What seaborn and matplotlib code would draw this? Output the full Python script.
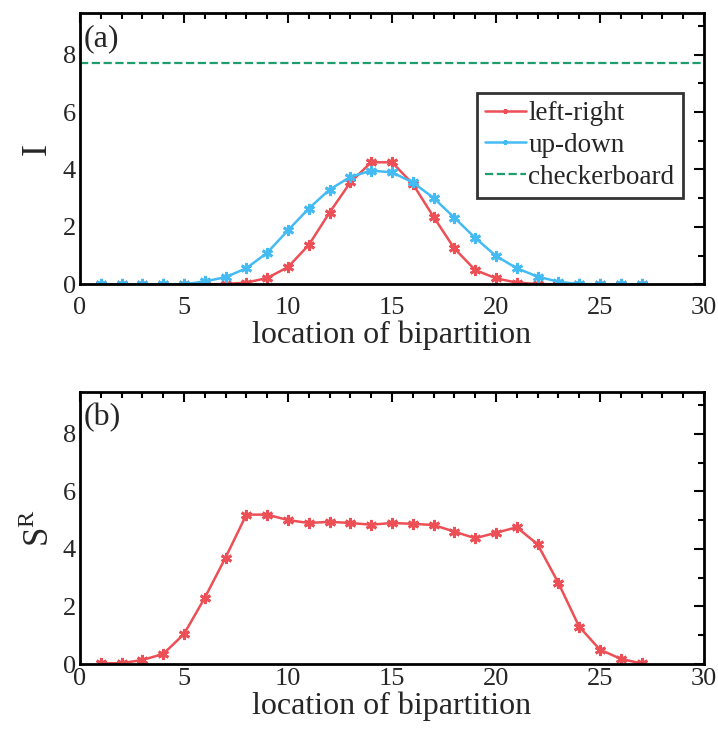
import numpy as np
import pandas as pd
import matplotlib
matplotlib.use('Agg')
import matplotlib.pyplot as plt
import seaborn as sns
from matplotlib.ticker import MultipleLocator

# значения
location = list(range(1, 28))
left_right = [0, 0, 0, 0, 0, 0, 0.01, 0.06, 0.22, 0.6, 1.37, 2.5, 3.55, 4.25, 4.25,
              3.5, 2.35, 1.25, 0.5, 0.21, 0.06, 0.01, 0, 0, 0, 0, 0]
up_down = [0, 0, 0, 0, 0, 0.1, 0.25, 0.56, 1.1, 1.88, 2.64, 3.3, 3.74, 3.96, 3.9,
           3.55, 3.01, 2.32, 1.62, 0.99, 0.56, 0.27, 0.09, 0.01, 0, 0, 0]
checkerboard = 7.71
s_renyi = [0.02, 0.03, 0.14, 0.35, 1.04, 2.3, 3.7, 5.19, 5.19, 5.0, 4.9, 4.94, 4.9,
           4.84, 4.9, 4.87, 4.83, 4.6, 4.37, 4.56, 4.75, 4.16, 2.82, 1.3, 0.5, 0.18, 0.02]

df_top = pd.DataFrame({'x': location, 'left-right': left_right, 'up-down': up_down})
df_bot = pd.DataFrame({'x': location, 'S': s_renyi})

red = '#EC4F55'
blue = '#45BBF4'
green = '#1E9E6C'

sns.set_style('white')
plt.rcParams['font.family'] = ['Liberation Serif', 'DejaVu Serif']
plt.rcParams['mathtext.fontset'] = 'custom'
plt.rcParams['mathtext.rm'] = 'Liberation Serif'

fig = plt.figure(figsize=(7.18, 7.33), dpi=100)
ax1 = fig.add_axes([0.1114, 0.6121, 0.869, 0.3702])
ax2 = fig.add_axes([0.1114, 0.0941, 0.869, 0.3711])

mk = dict(marker=(6, 2, 0), markersize=8, markeredgewidth=2)
sns.lineplot(data=df_top, x='x', y='left-right', ax=ax1, color=red, lw=1.8,
             markeredgecolor=red, label='left-right', **mk)
sns.lineplot(data=df_top, x='x', y='up-down', ax=ax1, color=blue, lw=1.8,
             markeredgecolor=blue, label='up-down', **mk)
ax1.axhline(checkerboard, color=green, ls='--', lw=1.6, label='checkerboard')

sns.lineplot(data=df_bot, x='x', y='S', ax=ax2, color=red, lw=1.8,
             markeredgecolor=red, **mk)

for ax, lab, xpad, lpad in [(ax1, '(a)', 9, 1), (ax2, '(b)', 3, 1)]:
    ax.set_xlim(0, 30)
    ax.set_ylim(0, 9.45)
    ax.xaxis.set_major_locator(MultipleLocator(5))
    ax.xaxis.set_minor_locator(MultipleLocator(1))
    ax.yaxis.set_major_locator(MultipleLocator(2))
    ax.yaxis.set_minor_locator(MultipleLocator(1))
    ax.tick_params(which='both', direction='in', top=True, right=True,
                   labelsize=19, width=1.5, color='black')
    ax.tick_params(which='major', length=7)
    ax.tick_params(which='minor', length=4)
    ax.tick_params(axis='x', pad=xpad)
    ax.tick_params(axis='y', pad=3)
    for s in ax.spines.values():
        s.set_color('black')
        s.set_linewidth(2)
    ax.set_xlabel('location of bipartition', fontsize=23, labelpad=lpad)
    ax.text(0.006, 0.96, lab, transform=ax.transAxes, fontsize=23, va='top', ha='left')

ax1.set_ylabel('I', fontsize=26, labelpad=6)
ax2.set_ylabel(r'$\mathrm{S}^{\mathrm{R}}$', fontsize=25, labelpad=4)

leg = ax1.legend(loc='upper right', bbox_to_anchor=(0.966, 0.705), fontsize=19.5,
                 frameon=True, fancybox=False, edgecolor='black', handlelength=1.5,
                 handletextpad=0.1, borderpad=0.3, labelspacing=0.25, borderaxespad=0)
leg.get_frame().set_linewidth(2)
for h in leg.get_lines():
    h.set_markersize(3)

fig.savefig('out.png', dpi=100)
